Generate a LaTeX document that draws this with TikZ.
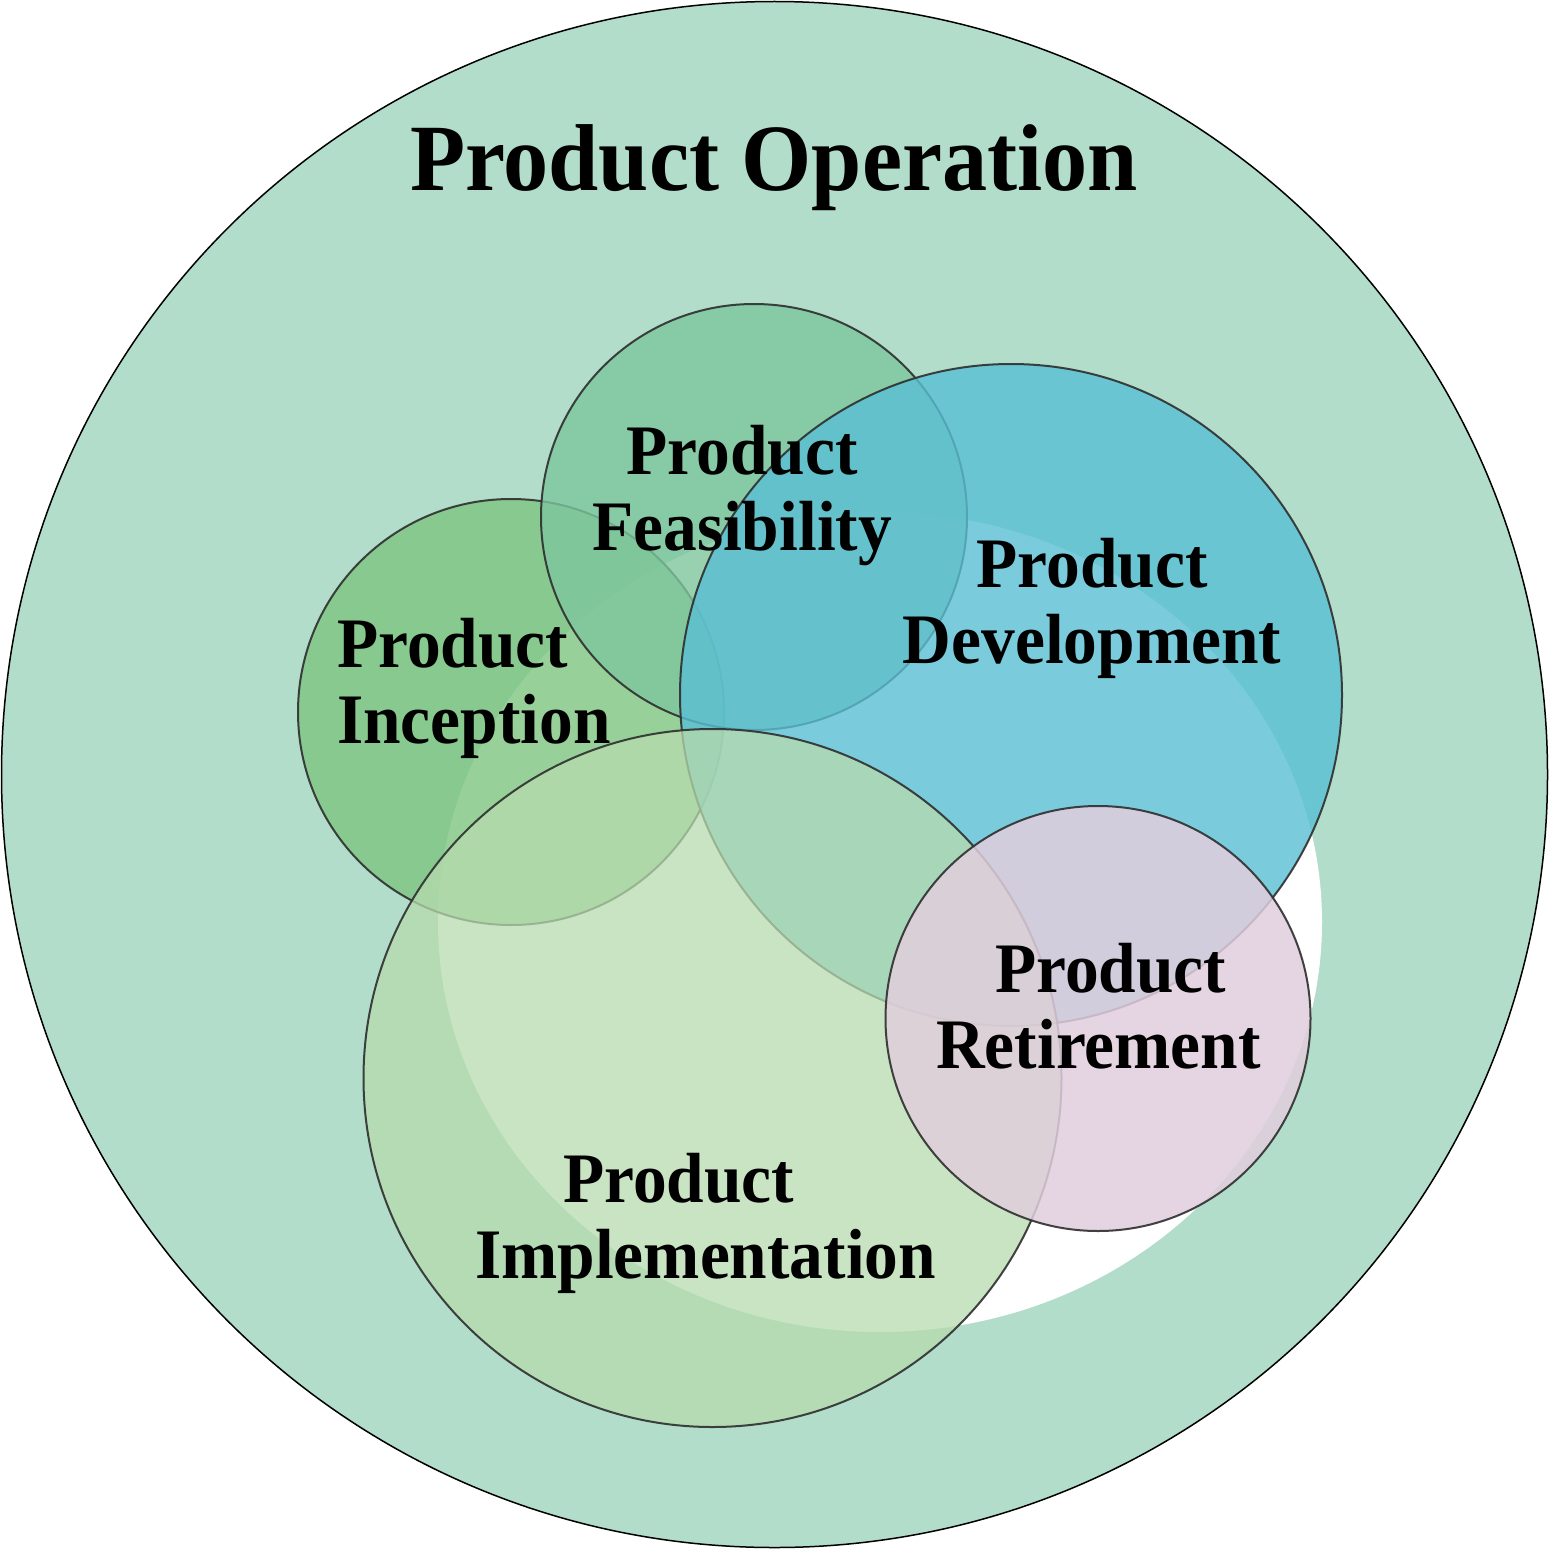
\documentclass[tikz,border=0pt]{standalone}
\usepackage{fontspec}
\newfontfamily\labfont{Liberation Serif}[FakeStretch=0.95]
\definecolor{opbg}{HTML}{B2DDCA}
\definecolor{incol}{HTML}{7DC580}
\definecolor{fecol}{HTML}{7DC69D}
\definecolor{decol}{HTML}{59BFD4}
\definecolor{imcol}{HTML}{B7DBAE}
\definecolor{recol}{HTML}{E1CEDD}
\definecolor{edge}{HTML}{2E2E2E}
\tikzset{
  phase/.style={draw=edge, line width=2pt, draw opacity=0.9},
  lab/.style={inner sep=0pt, anchor=base, align=center,
    font=\labfont\bfseries\fontsize{71}{76}\selectfont}
}
\begin{document}
\begin{tikzpicture}[x=1pt,y=-1pt]
\useasboundingbox (0,0) rectangle (1549,1549);
% outer
\path[fill=opbg, draw=black, line width=1.5pt] (774.5,774.5) circle[radius=773];
\node[inner sep=0pt, anchor=base, font=\labfont\bfseries\fontsize{95}{100}\selectfont] (op) at (774,190) {Product Operation};
% white inner region
\path[fill=white] (880,922) ellipse[x radius=442, y radius=410];
% phase circles
\path[phase, fill=incol, fill opacity=0.8] (511,712) circle[radius=213];
\path[phase, fill=fecol, fill opacity=0.8] (754,517) circle[radius=213];
\path[phase, fill=decol, fill opacity=0.8] (1011,695) circle[radius=331];
\path[phase, fill=imcol, fill opacity=0.75] (712.5,1078) circle[radius=349];
\path[phase, fill=recol, fill opacity=0.85] (1098,1018.5) circle[radius=212.5];
% labels (anchor = baseline of the last line)
\node[lab] (fe) at (742,550) {Product\\Feasibility};
\node[lab, anchor=base west, align=left] (in) at (337,743) {Product\\Inception};
\node[lab] (de) at (1092,663) {Product\\Development};
\node[lab, anchor=base west, align=left] (re) at (936,1068) {\hspace*{59pt}Product\\Retirement};
\node[lab, anchor=base west, align=left] (im) at (475,1278) {\hspace*{88pt}Product\\Implementation};
\end{tikzpicture}
\end{document}
